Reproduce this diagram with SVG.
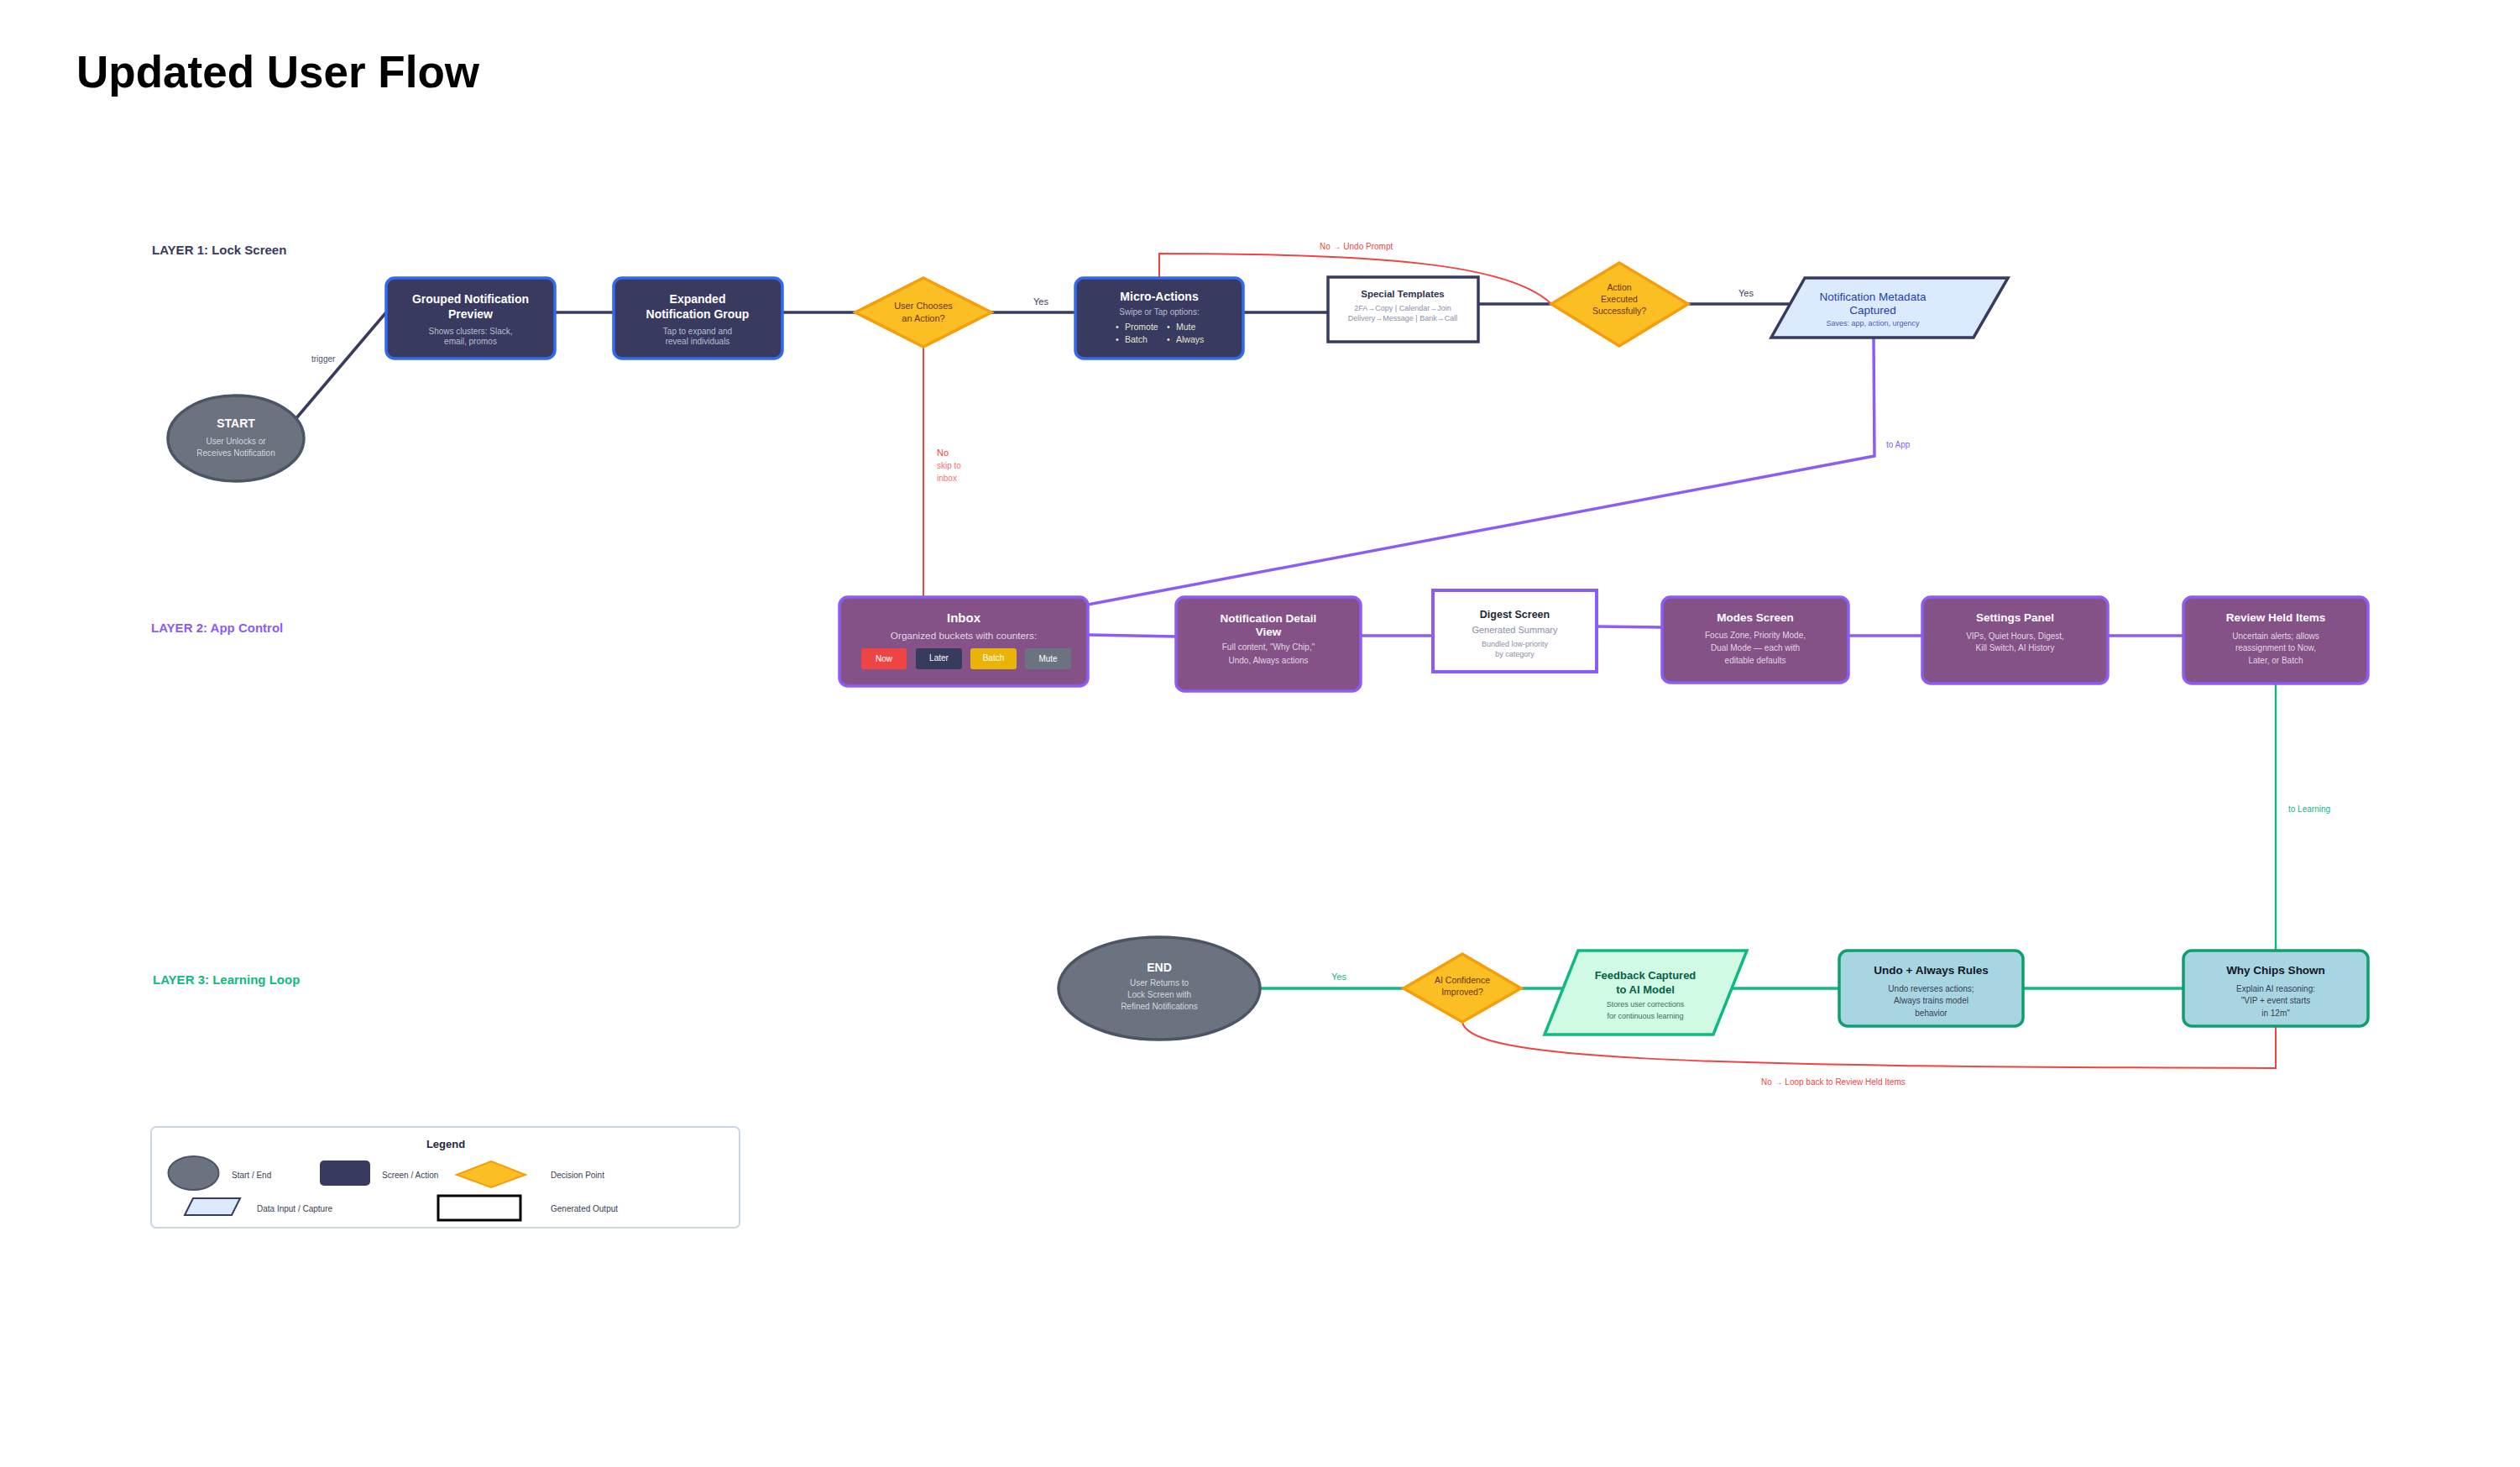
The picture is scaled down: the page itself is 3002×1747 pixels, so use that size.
<svg xmlns="http://www.w3.org/2000/svg" width="3002" height="1747" viewBox="0 0 3002 1747">
<style>
text{font-family:"Liberation Sans",Arial,sans-serif}
.title{font-size:53px;font-weight:700;fill:#000}
.layer{font-size:15px;font-weight:700}
.n1{fill:#383a5f;stroke:#3169f0;stroke-width:3.5}
.n2{fill:#845286;stroke:#8b5cf6;stroke-width:3.5}
.n3{fill:#a8d5e2;stroke:#0f9f6e;stroke-width:3.5}
.dia{fill:#fbbf24;stroke:#f59e0b;stroke-width:3.5}
.ell{fill:#6b7280;stroke:#4b5563;stroke-width:3.5}
.t1{font-size:14px;font-weight:700;fill:#fff;text-anchor:middle}
.t2{font-size:13.5px;font-weight:700;fill:#fff;text-anchor:middle}
.s1{font-size:10px;fill:#b9bdd0;text-anchor:middle}
.s2{font-size:10px;fill:#e2d6e4;text-anchor:middle}
.dt{font-size:11px;fill:#6b3410;text-anchor:middle}
.c1{fill:none;stroke:#373b5e;stroke-width:3.5}
.c2{fill:none;stroke:#8b5cf6;stroke-width:3.5}
.c3{fill:none;stroke:#10b981;stroke-width:3.5}
.cr{fill:none;stroke:#ef4444;stroke-width:2}
.lbl{font-size:10px}
.chip{font-size:10px;fill:#fff;text-anchor:middle}
.lg{font-size:10px;fill:#374151}
</style>

<text class="title" x="91" y="104">Updated User Flow</text>

<text class="layer" x="181" y="303" fill="#373b5e">LAYER 1: Lock Screen</text>
<text class="layer" x="180" y="753" fill="#8b5cf6">LAYER 2: App Control</text>
<text class="layer" x="182" y="1172" fill="#10b981">LAYER 3: Learning Loop</text>

<g id="connectors">
  <path class="c1" d="M353,498 L460,372"/>
  <path class="c1" d="M661,372 L731,372"/>
  <path class="c1" d="M932,372 L1019,372"/>
  <path class="c1" d="M1181,372 L1281,372"/>
  <path class="c1" d="M1481,372 L1582,372"/>
  <path class="c1" d="M1761,362 L1848,362"/>
  <path class="c1" d="M2011,362 L2132,362"/>
  <path class="cr" d="M1100,413 L1100,711"/>
  <path class="cr" d="M1381,331 L1381,302 C1650,302 1800,315 1848,362"/>
  <path class="c2" d="M2232,402 L2233,543 L1296,720"/>
  <path class="c2" d="M1296,756 L1401,758"/>
  <path class="c2" d="M1621,757 L1707,757"/>
  <path class="c2" d="M1902,746 L1980,747"/>
  <path class="c2" d="M2202,757 L2290,757"/>
  <path class="c2" d="M2511,757 L2601,757"/>
  <path class="c3" d="M2711,814 L2711,1132" style="stroke-width:2.5"/>
  <path class="c3" d="M1502,1177 L1672,1177"/>
  <path class="c3" d="M1812,1177 L1862,1177"/>
  <path class="c3" d="M2063,1177 L2191,1177"/>
  <path class="c3" d="M2410,1177 L2601,1177"/>
  <path class="cr" d="M1742,1217 C1750,1262 2000,1270 2711,1272 L2711,1222"/>
  <text class="lbl" x="371" y="431" fill="#4b5068">trigger</text>
  <text class="lbl" x="1231" y="363" fill="#373b5e" style="font-size:11px">Yes</text>
  <text class="lbl" x="1116" y="543" fill="#ef4444" style="font-size:11px">No</text>
  <text class="lbl" x="1116" y="558" fill="#f87171">skip to</text>
  <text class="lbl" x="1116" y="573" fill="#f87171">inbox</text>
  <text class="lbl" x="1572" y="297" fill="#ef4444">No → Undo Prompt</text>
  <text class="lbl" x="2071" y="353" fill="#373b5e" style="font-size:11px">Yes</text>
  <text class="lbl" x="2247" y="533" fill="#8b5cf6">to App</text>
  <text class="lbl" x="2726" y="967" fill="#10b981">to Learning</text>
  <text class="lbl" x="1586" y="1167" fill="#10b981" style="font-size:11px">Yes</text>
  <text class="lbl" x="2098" y="1292" fill="#ef4444">No → Loop back to Review Held Items</text>
</g>

<g id="start">
  <ellipse class="ell" cx="281" cy="522" rx="81" ry="51"/>
  <text class="t1" x="281" y="509">START</text>
  <text class="s1" x="281" y="529" style="fill:#d5d8df">User Unlocks or</text>
  <text class="s1" x="281" y="543" style="fill:#d5d8df">Receives Notification</text>
</g>

<g id="grouped-preview">
  <rect class="n1" x="460" y="331" width="201" height="96" rx="10"/>
  <text class="t1" x="560.5" y="361">Grouped Notification</text>
  <text class="t1" x="560.5" y="379">Preview</text>
  <text class="s1" x="560.5" y="398">Shows clusters: Slack,</text>
  <text class="s1" x="560.5" y="410">email, promos</text>
</g>

<g id="expanded-group">
  <rect class="n1" x="731" y="331" width="201" height="96" rx="10"/>
  <text class="t1" x="831" y="361">Expanded</text>
  <text class="t1" x="831" y="379">Notification Group</text>
  <text class="s1" x="831" y="398">Tap to expand and</text>
  <text class="s1" x="831" y="410">reveal individuals</text>
</g>

<g id="user-chooses">
  <polygon class="dia" points="1100,331 1181,372 1100,413 1019,372"/>
  <text class="dt" x="1100" y="368">User Chooses</text>
  <text class="dt" x="1100" y="383">an Action?</text>
</g>

<g id="micro-actions">
  <rect class="n1" x="1281" y="331" width="200" height="96" rx="10"/>
  <text class="t1" x="1381" y="358">Micro-Actions</text>
  <text class="s1" x="1381" y="375">Swipe or Tap options:</text>
  <g style="font-size:10.5px;fill:#e8e4cf">
    <text x="1329" y="393">•</text><text x="1340" y="393">Promote</text>
    <text x="1390" y="393">•</text><text x="1401" y="393">Mute</text>
    <text x="1329" y="408">•</text><text x="1340" y="408">Batch</text>
    <text x="1390" y="408">•</text><text x="1401" y="408">Always</text>
  </g>
</g>

<g id="special-templates">
  <rect x="1582" y="330" width="179" height="77" fill="#fff" stroke="#373b5e" stroke-width="3.5"/>
  <text x="1671" y="354" style="font-size:11.5px;font-weight:700;fill:#2d3150;text-anchor:middle">Special Templates</text>
  <text x="1671" y="370" style="font-size:9px;fill:#8b90a5;text-anchor:middle">2FA→Copy | Calendar→Join</text>
  <text x="1671" y="382" style="font-size:9px;fill:#8b90a5;text-anchor:middle">Delivery→Message | Bank→Call</text>
</g>

<g id="action-executed">
  <polygon class="dia" points="1929,313 2011,362 1929,412 1848,362"/>
  <text class="dt" x="1929" y="346" style="font-size:10.5px">Action</text>
  <text class="dt" x="1929" y="360" style="font-size:10.5px">Executed</text>
  <text class="dt" x="1929" y="374" style="font-size:10.5px">Successfully?</text>
</g>

<g id="metadata-captured">
  <polygon points="2150,331 2392,331 2351,402 2110,402" fill="#dbeafe" stroke="#373b5e" stroke-width="3.5"/>
  <text x="2231" y="358" style="font-size:13.5px;fill:#1e3fae;text-anchor:middle">Notification Metadata</text>
  <text x="2231" y="374" style="font-size:13.5px;fill:#1e3fae;text-anchor:middle">Captured</text>
  <text x="2231" y="388" style="font-size:9px;fill:#4f5bb0;text-anchor:middle">Saves: app, action, urgency</text>
</g>

<g id="inbox">
  <rect class="n2" x="1000" y="711" width="296" height="106" rx="10"/>
  <text class="t1" x="1148" y="741" style="font-size:15px">Inbox</text>
  <text class="s2" x="1148" y="761" style="font-size:11.8px">Organized buckets with counters:</text>
  <rect x="1026" y="772" width="54" height="25" rx="3" fill="#ef4444"/>
  <rect x="1091" y="772" width="55" height="25" rx="3" fill="#373b5e"/>
  <rect x="1156" y="772" width="55" height="25" rx="3" fill="#eab308"/>
  <rect x="1221" y="772" width="55" height="25" rx="3" fill="#6b7280"/>
  <text class="chip" x="1053" y="788">Now</text>
  <text class="chip" x="1118.5" y="787">Later</text>
  <text class="chip" x="1183.5" y="787">Batch</text>
  <text class="chip" x="1248.5" y="788">Mute</text>
</g>

<g id="notification-detail">
  <rect class="n2" x="1401" y="711" width="220" height="112" rx="10"/>
  <text class="t2" x="1511" y="741">Notification Detail</text>
  <text class="t2" x="1511" y="757">View</text>
  <text class="s2" x="1511" y="774">Full content, "Why Chip,"</text>
  <text class="s2" x="1511" y="790">Undo, Always actions</text>
</g>

<g id="digest-screen">
  <rect x="1707" y="703" width="195" height="97" fill="#fff" stroke="#8b5cf6" stroke-width="4"/>
  <text x="1804.5" y="736" style="font-size:12.5px;font-weight:700;fill:#1f2937;text-anchor:middle">Digest Screen</text>
  <text x="1804.5" y="754" style="font-size:11px;fill:#8a8fa3;text-anchor:middle">Generated Summary</text>
  <text x="1804.5" y="770" style="font-size:9px;fill:#8a8fa3;text-anchor:middle">Bundled low-priority</text>
  <text x="1804.5" y="782" style="font-size:9px;fill:#8a8fa3;text-anchor:middle">by category</text>
</g>

<g id="modes-screen">
  <rect class="n2" x="1980" y="711" width="222" height="102" rx="10"/>
  <text class="t2" x="2091" y="740">Modes Screen</text>
  <text class="s2" x="2091" y="760">Focus Zone, Priority Mode,</text>
  <text class="s2" x="2091" y="775">Dual Mode — each with</text>
  <text class="s2" x="2091" y="790">editable defaults</text>
</g>

<g id="settings-panel">
  <rect class="n2" x="2290" y="711" width="221" height="103" rx="10"/>
  <text class="t2" x="2400.5" y="740">Settings Panel</text>
  <text class="s2" x="2400.5" y="761">VIPs, Quiet Hours, Digest,</text>
  <text class="s2" x="2400.5" y="775">Kill Switch, AI History</text>
</g>

<g id="review-held">
  <rect class="n2" x="2601" y="711" width="220" height="103" rx="10"/>
  <text class="t2" x="2711" y="740">Review Held Items</text>
  <text class="s2" x="2711" y="761">Uncertain alerts; allows</text>
  <text class="s2" x="2711" y="775">reassignment to Now,</text>
  <text class="s2" x="2711" y="790">Later, or Batch</text>
</g>

<g id="end">
  <ellipse class="ell" cx="1381" cy="1177" rx="120" ry="61"/>
  <text class="t1" x="1381" y="1157">END</text>
  <text class="s1" x="1381" y="1174" style="fill:#d5d8df">User Returns to</text>
  <text class="s1" x="1381" y="1188" style="fill:#d5d8df">Lock Screen with</text>
  <text class="s1" x="1381" y="1202" style="fill:#d5d8df">Refined Notifications</text>
</g>

<g id="ai-confidence">
  <polygon class="dia" points="1742,1136 1812,1177 1742,1217 1672,1177"/>
  <text class="dt" x="1742" y="1171" style="font-size:10.5px">AI Confidence</text>
  <text class="dt" x="1742" y="1185" style="font-size:10.5px">Improved?</text>
</g>

<g id="feedback-captured">
  <polygon points="1880,1132 2081,1132 2041,1232 1840,1232" fill="#d1fae5" stroke="#10b981" stroke-width="3.5"/>
  <text x="1960" y="1166" style="font-size:13px;font-weight:700;fill:#065f46;text-anchor:middle">Feedback Captured</text>
  <text x="1960" y="1183" style="font-size:13px;font-weight:700;fill:#065f46;text-anchor:middle">to AI Model</text>
  <text x="1960" y="1199" style="font-size:9px;fill:#3f6b5a;text-anchor:middle">Stores user corrections</text>
  <text x="1960" y="1213" style="font-size:9px;fill:#3f6b5a;text-anchor:middle">for continuous learning</text>
</g>

<g id="undo-always">
  <rect class="n3" x="2191" y="1132" width="219" height="90" rx="10"/>
  <text x="2300.5" y="1160" style="font-size:13.5px;font-weight:700;fill:#111827;text-anchor:middle">Undo + Always Rules</text>
  <text x="2300.5" y="1181" style="font-size:10px;fill:#374151;text-anchor:middle">Undo reverses actions;</text>
  <text x="2300.5" y="1195" style="font-size:10px;fill:#374151;text-anchor:middle">Always trains model</text>
  <text x="2300.5" y="1210" style="font-size:10px;fill:#374151;text-anchor:middle">behavior</text>
</g>

<g id="why-chips">
  <rect class="n3" x="2601" y="1132" width="220" height="90" rx="10"/>
  <text x="2711" y="1160" style="font-size:13.5px;font-weight:700;fill:#111827;text-anchor:middle">Why Chips Shown</text>
  <text x="2711" y="1181" style="font-size:10px;fill:#374151;text-anchor:middle">Explain AI reasoning:</text>
  <text x="2711" y="1195" style="font-size:10px;fill:#374151;text-anchor:middle">"VIP + event starts</text>
  <text x="2711" y="1210" style="font-size:10px;fill:#374151;text-anchor:middle">in 12m"</text>
</g>

<g id="legend">
  <rect x="180" y="1342" width="701" height="120" rx="6" fill="#fff" stroke="#cbd5e1" stroke-width="2"/>
  <text x="531" y="1367" style="font-size:13px;font-weight:700;fill:#1f2937;text-anchor:middle">Legend</text>
  <ellipse class="ell" cx="230.5" cy="1397" rx="30" ry="20" style="stroke-width:2"/>
  <text class="lg" x="276" y="1403">Start / End</text>
  <rect x="381" y="1382" width="60" height="30" rx="5" fill="#383a5f"/>
  <text class="lg" x="455" y="1403">Screen / Action</text>
  <polygon class="dia" points="585,1383 626,1399 585,1414 544,1399" style="stroke-width:2"/>
  <text class="lg" x="656" y="1403">Decision Point</text>
  <polygon points="230,1427 286,1427 276,1447 220,1447" fill="#dbeafe" stroke="#373b5e" stroke-width="2"/>
  <text class="lg" x="306" y="1443">Data Input / Capture</text>
  <rect x="522" y="1424" width="98" height="29" fill="#fff" stroke="#000" stroke-width="3"/>
  <text class="lg" x="656" y="1443">Generated Output</text>
</g>
</svg>
